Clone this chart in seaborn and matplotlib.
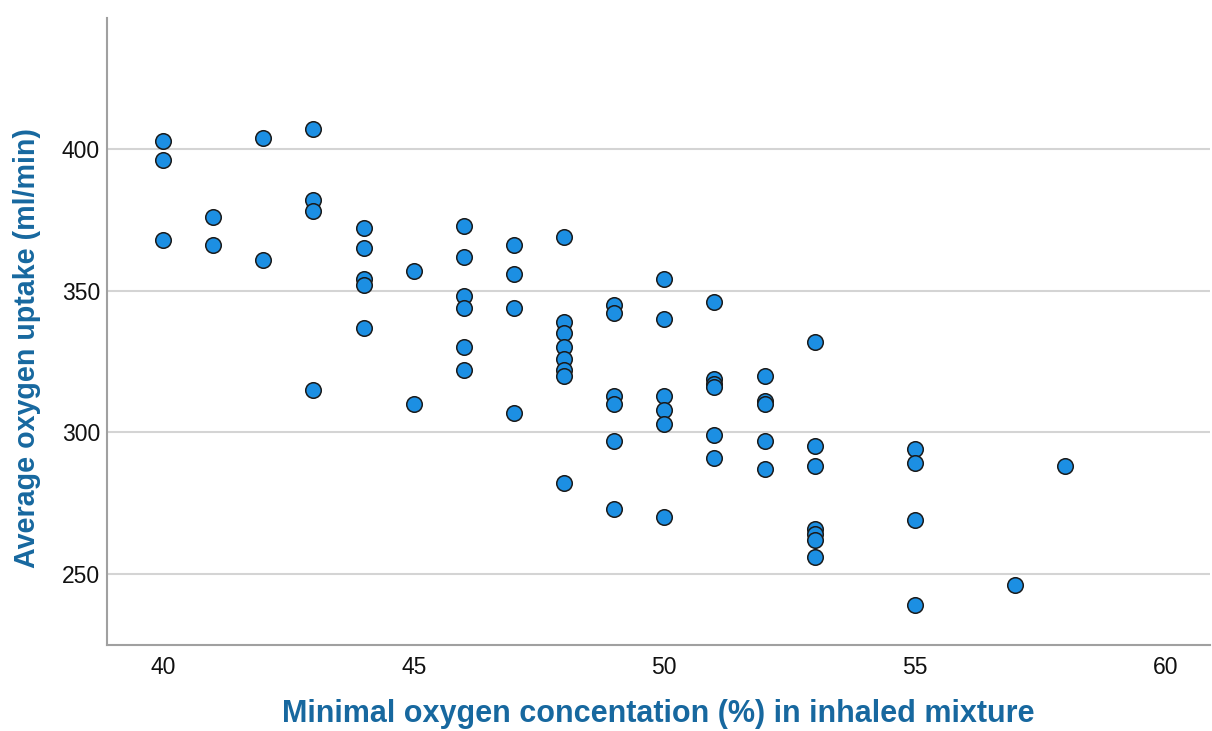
import matplotlib
matplotlib.use("Agg")
import matplotlib.pyplot as plt
import seaborn as sns
import pandas as pd

# Minimal O2 concentration in the inhaled mixture (%) for each subject
oxygen_pct = [
    40, 40, 40,
    41, 41,
    42, 42,
    43, 43, 43, 43,
    44, 44, 44, 44, 44,
    45, 45,
    46, 46, 46, 46, 46, 46,
    47, 47, 47, 47,
    48, 48, 48, 48, 48, 48, 48, 48,
    49, 49, 49, 49, 49, 49,
    50, 50, 50, 50, 50, 50,
    51, 51, 51, 51, 51, 51,
    52, 52, 52, 52, 52,
    53, 53, 53, 53, 53, 53, 53,
    55, 55, 55, 55,
    57,
    58,
]

# Average oxygen uptake (ml/min)
uptake = [
    403, 396, 368,
    376, 366,
    404, 361,
    407, 382, 378, 315,
    372, 365, 354, 352, 337,
    357, 310,
    373, 362, 348, 344, 330, 322,
    366, 356, 344, 307,
    369, 339, 335, 330, 326, 322, 320, 282,
    345, 342, 313, 310, 297, 273,
    354, 340, 313, 308, 303, 270,
    346, 319, 317, 316, 299, 291,
    320, 311, 310, 297, 287,
    332, 295, 288, 266, 264, 262, 256,
    294, 289, 269, 239,
    246,
    288,
]

x_ticks = [40, 45, 50, 55, 60]
y_ticks = [250, 300, 350, 400]

df = pd.DataFrame({"oxygen": oxygen_pct, "uptake": uptake})

sns.set_theme(style="white")
plt.rcParams["font.family"] = ["Liberation Sans", "DejaVu Sans"]

fig = plt.figure(figsize=(12.12, 7.31), dpi=100)
ax = fig.add_axes([0.0883, 0.1176, 0.9097, 0.8574])

for yv in y_ticks:
    ax.axhline(yv, color="#d4d4d4", linewidth=1.5, zorder=0)

sns.scatterplot(
    data=df, x="oxygen", y="uptake", ax=ax,
    s=125, color="#1c8fe3", edgecolor="#1a1a1a", linewidth=1.1,
    zorder=3, legend=False,
)

ax.set_xlim(38.88, 60.88)
ax.set_ylim(224.9, 446.2)
ax.set_xticks(x_ticks)
ax.set_yticks(y_ticks)
ax.tick_params(axis="both", length=0, labelsize=16.5, colors="#111111")
ax.tick_params(axis="x", pad=8)
ax.tick_params(axis="y", pad=5)

for side in ("top", "right"):
    ax.spines[side].set_visible(False)
for side in ("left", "bottom"):
    ax.spines[side].set_color("#a0a0a0")
    ax.spines[side].set_linewidth(1.5)

label_color = "#17689f"
ax.set_xlabel("Minimal oxygen concentation (%) in inhaled mixture",
              fontsize=22, fontweight="bold", color=label_color, labelpad=14)
ax.set_ylabel("Average oxygen uptake (ml/min)",
              fontsize=20.6, fontweight="bold", color=label_color)
ax.yaxis.set_label_coords(-0.0598, 0.4745)

fig.savefig("out.png", dpi=100)
